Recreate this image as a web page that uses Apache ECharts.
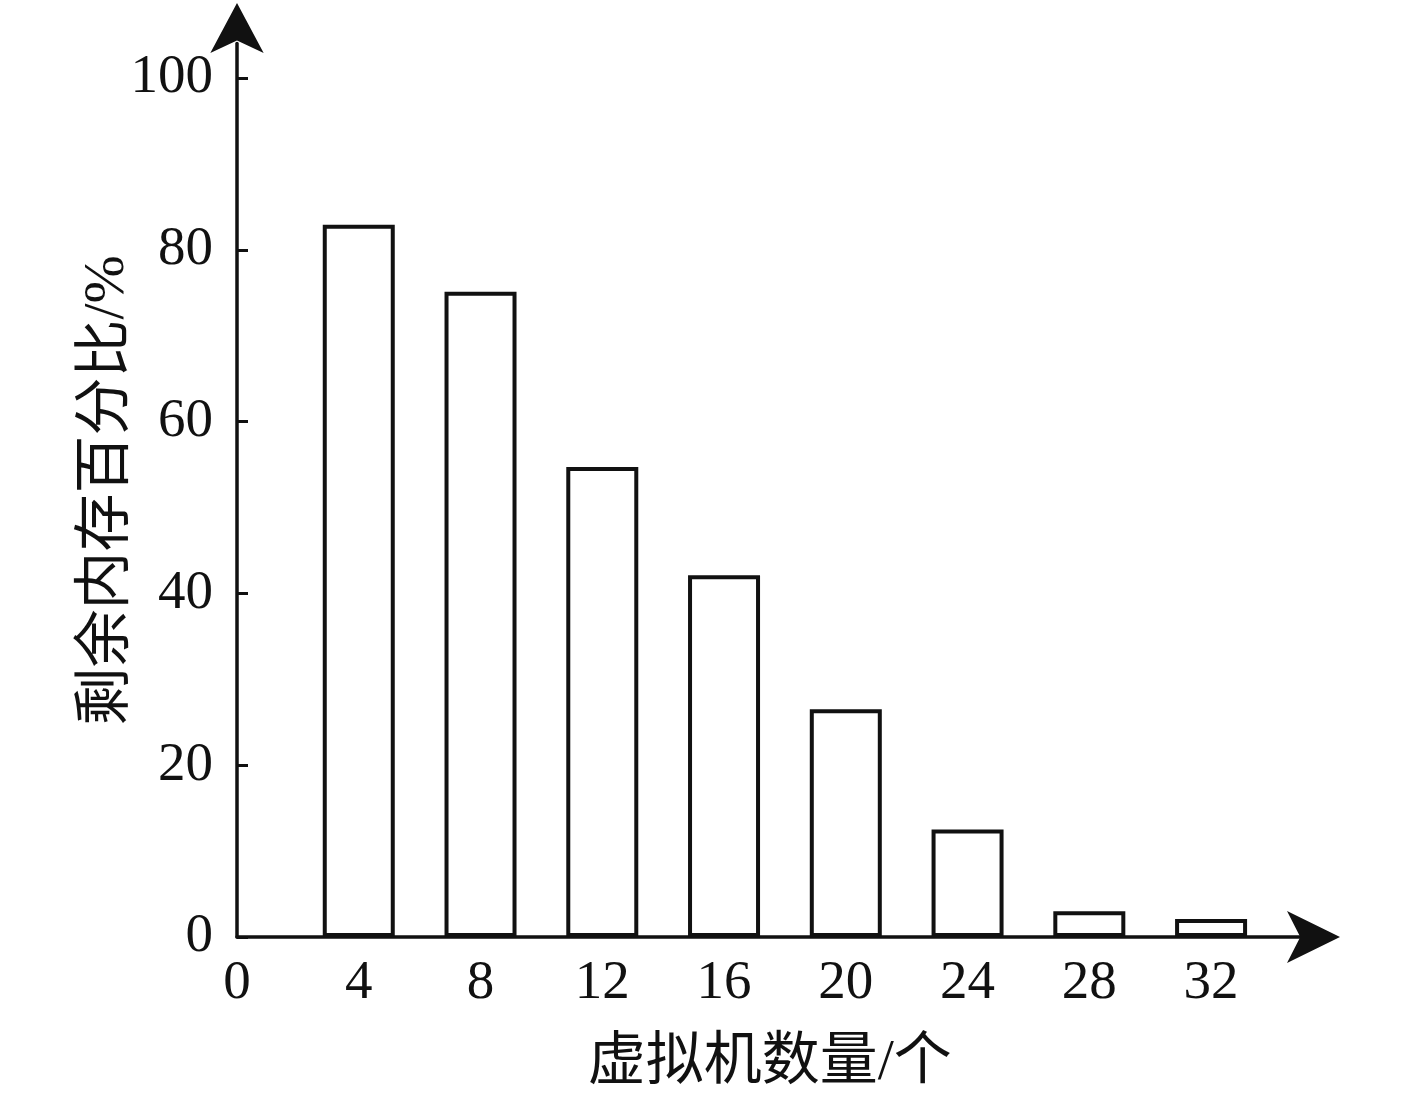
<!DOCTYPE html>
<html>
<head>
<meta charset="utf-8">
<title>剩余内存百分比</title>
<script src="https://cdn.jsdelivr.net/npm/echarts@6/dist/echarts.min.js"></script>
<style>
  html, body { margin: 0; padding: 0; background: #fff; }
  #chart { width: 1417px; height: 1094px; }
</style>
</head>
<body>
<div id="chart"></div>
<script>
// 虚拟机数量（个）
var vmCounts = [4, 8, 12, 16, 20, 24, 28, 32];
// 剩余内存百分比（%）
var freeMemory = [82.9, 75.1, 54.7, 42.1, 26.5, 12.5, 3.0, 2.1];
// 刻度
var xTicks = [0, 4, 8, 12, 16, 20, 24, 28, 32];
var yTicks = [0, 20, 40, 60, 80, 100];

var serif = '"Liberation Serif", "Noto Sans CJK SC", serif';

var chart = echarts.init(document.getElementById('chart'));

var option = {
	backgroundColor: '#fff',
	animation: false,
	grid: {
		left: 237,
		right: 114.6,
		top: 43.6,
		bottom: 157,
		containLabel: false,
		outerBoundsMode: 'none'
	},
	xAxis: {
		type: 'value',
		min: 0,
		max: 35,
		name: '虚拟机数量/个',
		nameLocation: 'middle',
		nameGap: 98,
		nameMoveOverlap: false,
		nameTextStyle: { fontFamily: serif, fontSize: 58, color: '#111' },
		axisLine: {
			show: true,
			lineStyle: { color: '#111', width: 3.5 },
			symbol: ['none', 'arrow'],
			symbolSize: [39, 53],
			symbolOffset: [0, 37.6]
		},
		axisTick: { show: false },
		axisLabel: {
			customValues: xTicks,
			fontFamily: serif,
			fontSize: 55,
			color: '#111',
			margin: 19
		},
		splitLine: { show: false }
	},
	yAxis: {
		type: 'value',
		min: 0,
		max: 104,
		name: '剩余内存百分比/%',
		nameLocation: 'middle',
		nameGap: 100,
		nameMoveOverlap: false,
		nameTextStyle: { fontFamily: serif, fontSize: 58, color: '#111' },
		axisLine: {
			show: true,
			lineStyle: { color: '#111', width: 3.5 },
			symbol: ['none', 'arrow'],
			symbolSize: [40, 50],
			symbolOffset: [0, 40.6]
		},
		axisTick: {
			show: true,
			inside: true,
			length: 11,
			customValues: yTicks,
			lineStyle: { color: '#111', width: 3 }
		},
		axisLabel: {
			customValues: yTicks,
			fontFamily: serif,
			fontSize: 55,
			color: '#111',
			margin: 24
		},
		splitLine: { show: false }
	},
	series: [{
		type: 'bar',
		barWidth: 72,
		data: vmCounts.map(function (v, i) { return [v, freeMemory[i]]; }),
		itemStyle: {
			color: '#fff',
			borderColor: '#111',
			borderWidth: 4
		}
	}]
};

chart.setOption(option);
</script>
</body>
</html>
